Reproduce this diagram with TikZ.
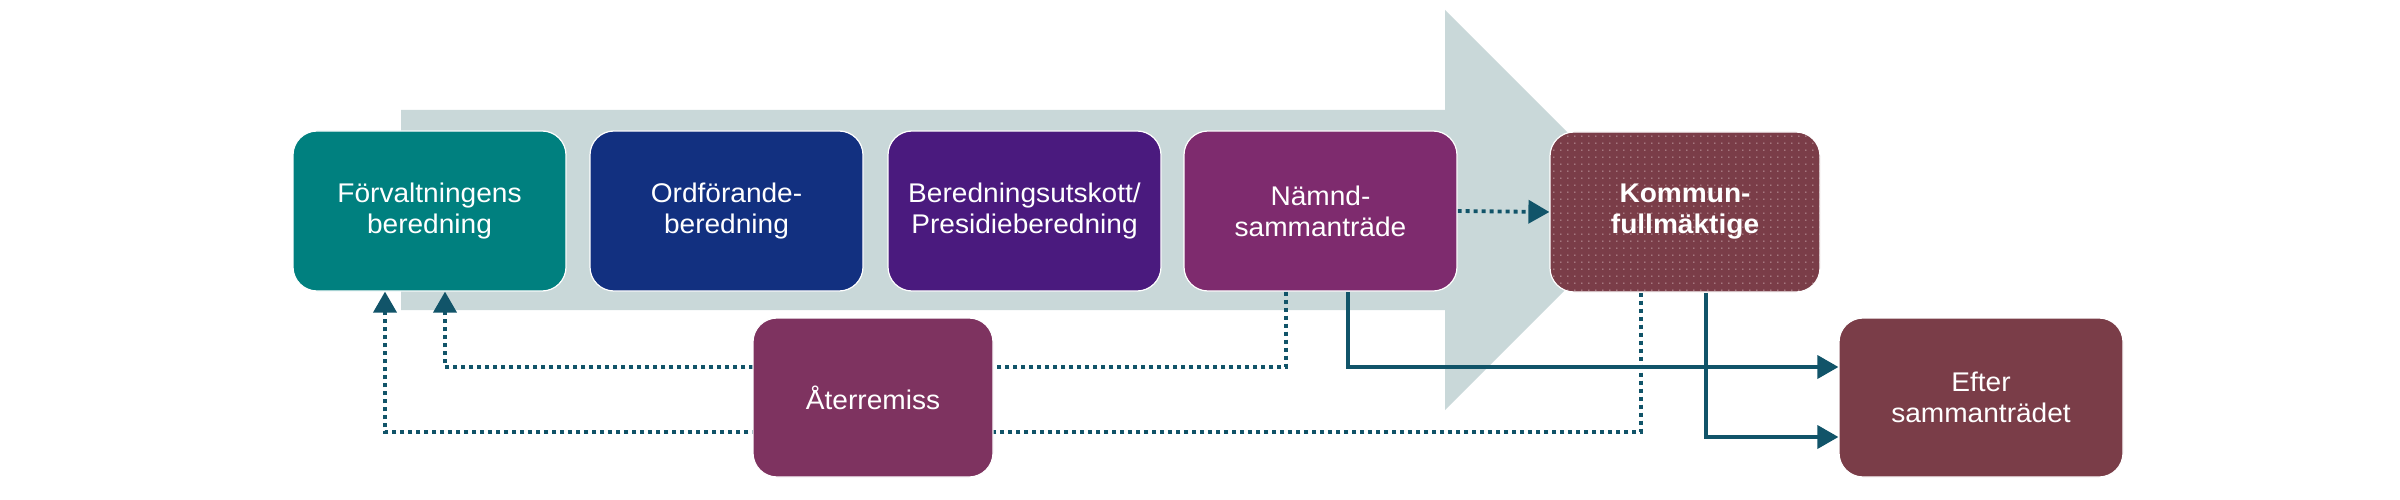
\documentclass[tikz,border=0pt]{standalone}
\usepackage{fontspec}
\setmainfont{Liberation Sans}[FakeStretch=1.04]
\usetikzlibrary{arrows.meta,patterns.meta}
\definecolor{bgarrow}{HTML}{C9D8D9}
\definecolor{cteal}{HTML}{00807F}
\definecolor{cblue}{HTML}{123080}
\definecolor{cpurple}{HTML}{4A1A7E}
\definecolor{cplum}{HTML}{7E2B6E}
\definecolor{cbrown}{HTML}{7A3D48}
\definecolor{cremiss}{HTML}{7E3360}
\definecolor{cline}{HTML}{115469}
\definecolor{cdot}{HTML}{F4E2E6}
\tikzdeclarepattern{
  name=kdots,
  type=uncolored,
  bottom left={(-1pt,-1pt)},
  top right={(6pt,6pt)},
  tile size={(7pt,7pt)},
  code={\fill (0pt,0pt) circle (0.6pt);}
}
\pgfdeclarelayer{bglayer}
\pgfdeclarelayer{linelayer}
\pgfsetlayers{bglayer,linelayer,main}
\begin{document}
\begin{tikzpicture}[x=1pt,y=-1pt,
  box/.style={rounded corners=24pt, minimum width=273pt, minimum height=160pt,
    inner sep=0pt, align=center, text=white, draw=white, line width=1.2pt,
    font=\fontsize{27}{31}\selectfont},
  dotline/.style={draw=cline, line width=3.8pt, dash pattern=on 4pt off 4pt},
  solidline/.style={draw=cline, line width=3.6pt},
  tipped/.style={-{Triangle[length=21pt,width=23pt]}}
]
\useasboundingbox (0,0) rectangle (2400,500);

% boxes
\node[box, fill=cteal]   (forv)   at (429.5,211) {Förvaltningens\\beredning};
\node[box, fill=cblue]   (ordf)   at (726.5,211) {Ordförande-\\beredning};
\node[box, fill=cpurple] (bered)  at (1024.5,211) {Beredningsutskott/\\Presidieberedning};
\node[box, fill=cplum]   (namnd)  at (1320.5,211) {Nämnd-\\sammanträde};
\node[box, fill=cbrown, minimum width=270pt, postaction={pattern=kdots, pattern color=cdot}]
                         (kommun) at (1685,212) {\bfseries Kommun-\\\bfseries fullmäktige};
\node[box, fill=cremiss, minimum width=240pt, minimum height=159pt] (remiss) at (873,397.5) {Återremiss};
\node[box, fill=cbrown, minimum width=284pt, minimum height=159pt]  (efter)  at (1981,397.5) {Efter\\sammanträdet};

\coordinate (yup) at (0,367);
\coordinate (ylow) at (0,432);
\coordinate (ylowb) at (0,437);

\begin{pgfonlayer}{bglayer}
  \fill[white] (0,0) rectangle (2400,500);
  \fill[bgarrow] (401,110) -- (1445,110) -- (1445,10) -- (1645,210)
    -- (1445,410) -- (1445,310) -- (401,310) -- cycle;
\end{pgfonlayer}

\begin{pgfonlayer}{linelayer}
  \draw[dotline,tipped] (namnd.east) -- (kommun.west);
  \draw[dotline,tipped] ([xshift=-34.5pt]namnd.south) -- ([xshift=-34.5pt]namnd.south |- yup)
    -| ([xshift=15.5pt]forv.south);
  \draw[dotline,tipped] ([xshift=-44pt]kommun.south) -- ([xshift=-44pt]kommun.south |- ylow)
    -| ([xshift=-44.5pt]forv.south);
  \draw[solidline,tipped] ([xshift=27.5pt]namnd.south) |- (efter.west |- yup);
  \draw[solidline,tipped] ([xshift=21pt]kommun.south) |- (efter.west |- ylowb);
\end{pgfonlayer}
\end{tikzpicture}
\end{document}
